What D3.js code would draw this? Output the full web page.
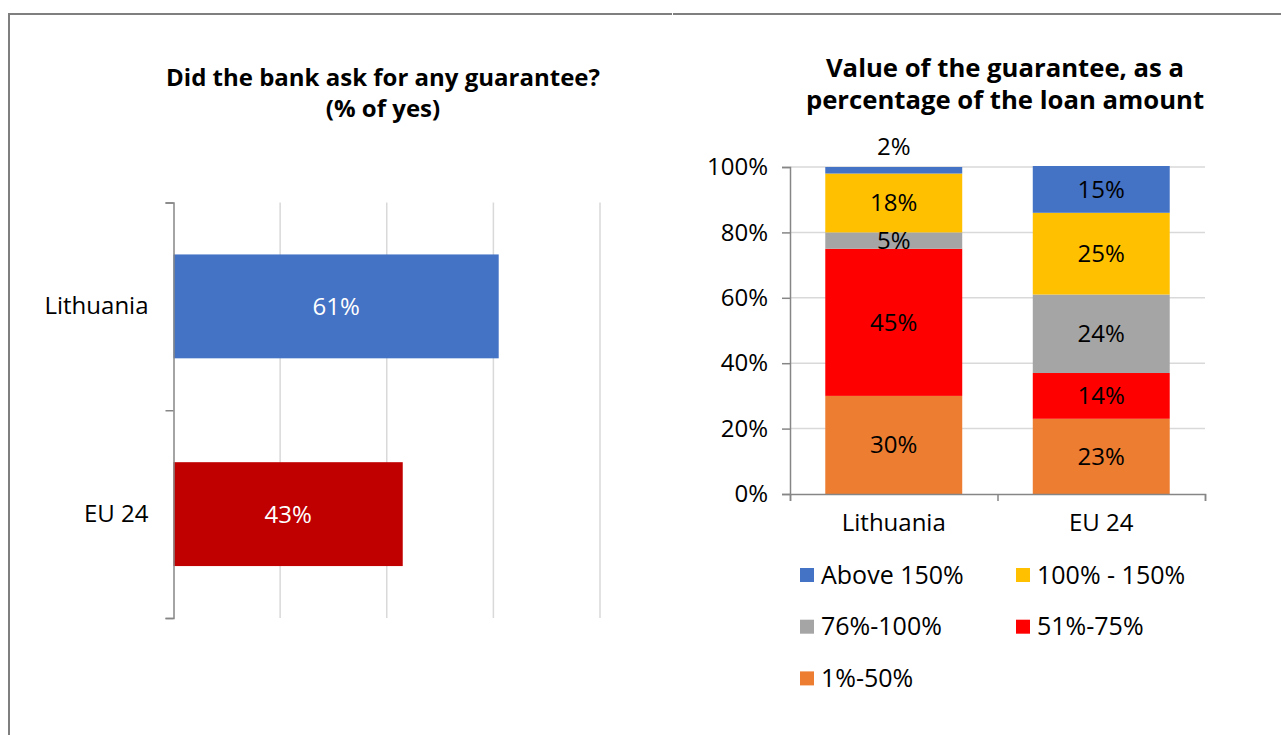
<!DOCTYPE html>
<html>
<head>
<meta charset="utf-8">
<script src="https://cdn.jsdelivr.net/npm/d3@7"></script>
<style>
  html, body { margin: 0; padding: 0; background: #fff; }
  svg { display: block; font-family: "Open Sans", sans-serif; }
</style>
</head>
<body>
<svg id="chart" width="1281" height="735"></svg>
<script>
// ---- data ----
const countries = ["Lithuania", "EU 24"];
const guaranteeAsked = [0.61, 0.43];
const guaranteeAxisTicks = [0, 0.2, 0.4, 0.6, 0.8];

const valueBands = ["1%-50%", "51%-75%", "76%-100%", "100% - 150%", "Above 150%"];
const lithuaniaShares = [0.30, 0.45, 0.05, 0.18, 0.02];
const eu24Shares = [0.23, 0.14, 0.24, 0.25, 0.15];
const shareAxisTicks = [0, 0.2, 0.4, 0.6, 0.8, 1.0];
const legendOrder = ["Above 150%", "100% - 150%", "76%-100%", "51%-75%", "1%-50%"];

// ---- styles ----
const countryColor = { "Lithuania": "#4472C4", "EU 24": "#C00000" };
const bandColor = {
  "1%-50%": "#ED7D31",
  "51%-75%": "#FF0000",
  "76%-100%": "#A5A5A5",
  "100% - 150%": "#FFC000",
  "Above 150%": "#4472C4"
};
const FS = 24;
const AXIS = "#868686";
const GRID = "#D9D9D9";
const pct = d3.format(".0%");

const svg = d3.select("#chart");

// outer frame of the two chart boxes
svg.append("path")
  .attr("d", "M9,735V14H672")
  .attr("fill", "none").attr("stroke", "#7F7F7F").attr("stroke-width", 2);
svg.append("line")
  .attr("x1", 673).attr("x2", 1281).attr("y1", 14).attr("y2", 14)
  .attr("stroke", "#7F7F7F").attr("stroke-width", 2);

// ================= left: horizontal bars =================
const L = { x0: 173.5, x1: 600, y0: 202.5, y1: 618 };
const xL = d3.scaleLinear().domain([0, 0.8]).range([L.x0, L.x1]);
const yL = d3.scaleBand().domain(countries).range([L.y0, L.y1])
  .paddingInner(0.5).paddingOuter(0.25);

svg.append("text")
  .attr("y", 86)
  .attr("text-anchor", "middle").attr("font-weight", "bold").attr("font-size", FS)
  .selectAll("tspan")
  .data(["Did the bank ask for any guarantee?", "(% of yes)"])
  .join("tspan")
  .attr("x", 383).attr("dy", (d, i) => i === 0 ? 0 : 31)
  .text(d => d);

// vertical gridlines
svg.append("g")
  .selectAll("line")
  .data(guaranteeAxisTicks.filter(d => d > 0))
  .join("line")
  .attr("x1", d => xL(d)).attr("x2", d => xL(d))
  .attr("y1", L.y0).attr("y2", L.y1)
  .attr("stroke", GRID).attr("stroke-width", 1.5);

const leftRows = countries.map((c, i) => ({ country: c, value: guaranteeAsked[i] }));

svg.append("g")
  .selectAll("rect")
  .data(leftRows)
  .join("rect")
  .attr("x", xL(0))
  .attr("y", d => yL(d.country))
  .attr("width", d => xL(d.value) - xL(0))
  .attr("height", yL.bandwidth())
  .attr("fill", d => countryColor[d.country]);

svg.append("g")
  .selectAll("text")
  .data(leftRows)
  .join("text")
  .attr("x", d => (xL(0) + xL(d.value)) / 2)
  .attr("y", d => yL(d.country) + yL.bandwidth() / 2)
  .attr("dy", "0.35em")
  .attr("text-anchor", "middle")
  .attr("font-size", FS)
  .attr("fill", "#fff")
  .text(d => pct(d.value));

// category axis: bracket with ticks between categories
const yLedges = d3.scaleLinear().domain([0, countries.length]).range([L.y0, L.y1]);
const leftAxis = svg.append("g").attr("transform", `translate(${L.x0},0)`)
  .call(d3.axisLeft(yLedges).tickValues(d3.range(countries.length + 1))
    .tickSize(8).tickFormat(""));
leftAxis.selectAll("path,line").attr("stroke", AXIS).attr("stroke-width", 1.5);

const leftLabels = svg.append("g").attr("transform", `translate(${L.x0},0)`)
  .call(d3.axisLeft(yL).tickSize(0).tickPadding(25));
leftLabels.select(".domain").remove();
leftLabels.selectAll("text").attr("font-size", FS).attr("font-family", "Open Sans").attr("fill", "#000");

// ================= right: 100% stacked columns =================
const R = { x0: 790, x1: 1205, y0: 167, y1: 494 };
const yR = d3.scaleLinear().domain([0, 1]).range([R.y1, R.y0]);
const xR = d3.scaleBand().domain(countries).range([R.x0, R.x1])
  .paddingInner(0.34).paddingOuter(0.17);

svg.append("text")
  .attr("text-anchor", "middle").attr("font-weight", "bold").attr("font-size", 25.7)
  .attr("y", 77)
  .selectAll("tspan")
  .data(["Value of the guarantee, as a", "percentage of the loan amount"])
  .join("tspan")
  .attr("x", 1005).attr("dy", (d, i) => i === 0 ? 0 : 32)
  .text(d => d);

// horizontal gridlines
svg.append("g")
  .selectAll("line")
  .data(shareAxisTicks.filter(d => d > 0))
  .join("line")
  .attr("x1", R.x0).attr("x2", R.x1)
  .attr("y1", d => yR(d)).attr("y2", d => yR(d))
  .attr("stroke", GRID).attr("stroke-width", 1.5);

const shareRows = countries.map((c, i) => {
  const shares = i === 0 ? lithuaniaShares : eu24Shares;
  const row = { country: c };
  valueBands.forEach((b, j) => { row[b] = shares[j]; });
  return row;
});
const stacked = d3.stack().keys(valueBands)(shareRows);

svg.append("clipPath").attr("id", "plot-clip")
  .append("rect")
  .attr("x", R.x0).attr("y", R.y0 - 1)
  .attr("width", R.x1 - R.x0).attr("height", R.y1 - R.y0 + 1);

const layers = svg.append("g").attr("clip-path", "url(#plot-clip)")
  .selectAll("g")
  .data(stacked)
  .join("g")
  .attr("fill", s => bandColor[s.key]);

layers.selectAll("rect")
  .data(s => s)
  .join("rect")
  .attr("x", d => xR(d.data.country))
  .attr("width", xR.bandwidth())
  .attr("y", d => yR(d[1]))
  .attr("height", d => yR(d[0]) - yR(d[1]));

const segLabels = [];
stacked.forEach(s => s.forEach(d => {
  const v = d.data[s.key];
  const top = Math.min(d[1], 1);
  const small = v < 0.03;
  segLabels.push({
    x: xR(d.data.country) + xR.bandwidth() / 2,
    y: small ? yR(d[1]) - 20 : (yR(d[0]) + yR(top)) / 2,
    text: pct(v)
  });
}));

svg.append("g")
  .selectAll("text")
  .data(segLabels)
  .join("text")
  .attr("x", d => d.x).attr("y", d => d.y)
  .attr("dy", "0.35em")
  .attr("text-anchor", "middle")
  .attr("font-size", FS)
  .attr("fill", "#000")
  .text(d => d.text);

// value axis
const rightY = svg.append("g").attr("transform", `translate(${R.x0},0)`)
  .call(d3.axisLeft(yR).tickValues(shareAxisTicks).tickFormat(pct)
    .tickSize(8).tickPadding(14));
rightY.selectAll("path,line").attr("stroke", AXIS).attr("stroke-width", 1.5);
rightY.selectAll("text").attr("font-size", FS).attr("font-family", "Open Sans").attr("fill", "#000");

// category axis with ticks between columns
const xRedges = d3.scaleLinear().domain([0, countries.length]).range([R.x0, R.x1]);
const rightX = svg.append("g").attr("transform", `translate(0,${R.y1})`)
  .call(d3.axisBottom(xRedges).tickValues(d3.range(countries.length + 1))
    .tickSize(7).tickFormat(""));
rightX.selectAll("path,line").attr("stroke", AXIS).attr("stroke-width", 1.5);

const rightXLabels = svg.append("g").attr("transform", `translate(0,${R.y1})`)
  .call(d3.axisBottom(xR).tickSize(0).tickPadding(20));
rightXLabels.select(".domain").remove();
rightXLabels.selectAll("text").attr("font-size", FS).attr("font-family", "Open Sans").attr("fill", "#000");

// legend
const legend = svg.append("g")
  .selectAll("g")
  .data(legendOrder)
  .join("g")
  .attr("transform", (d, i) => `translate(${800 + (i % 2) * 216},${575 + Math.floor(i / 2) * 51.7})`);

legend.append("rect")
  .attr("x", 0).attr("y", -7).attr("width", 14).attr("height", 14)
  .attr("fill", d => bandColor[d]);

legend.append("text")
  .attr("x", 21).attr("dy", "0.35em")
  .attr("font-size", 25)
  .attr("fill", "#000")
  .text(d => d);
</script>
</body>
</html>
